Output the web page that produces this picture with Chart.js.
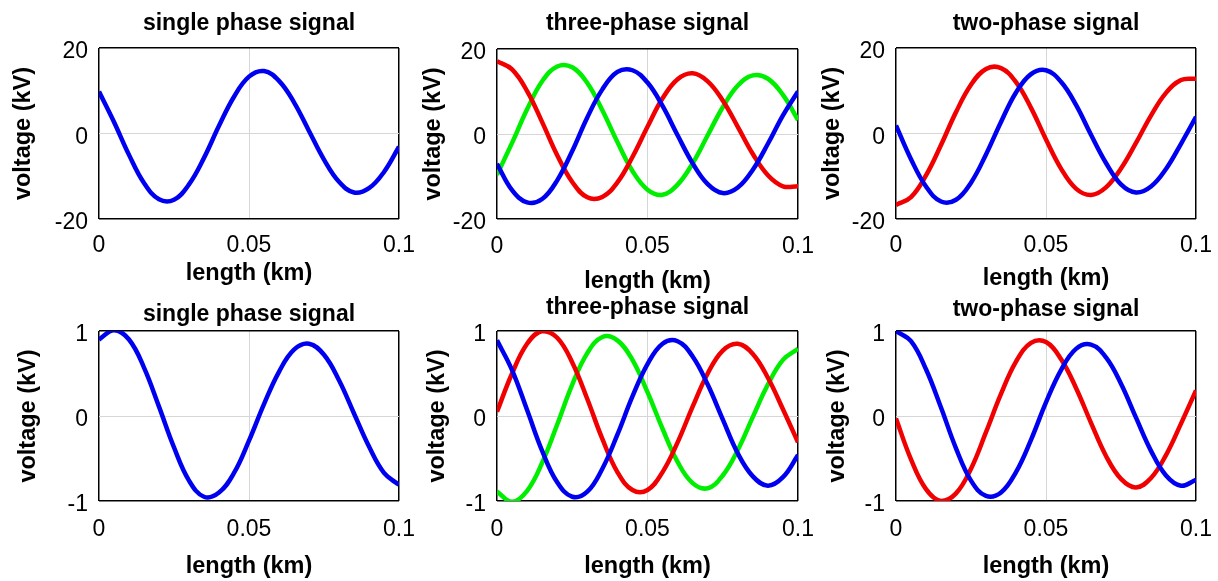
<!DOCTYPE html>
<html>
<head>
<meta charset="utf-8">
<script src="https://cdn.jsdelivr.net/npm/chart.js@4.4.0/dist/chart.umd.min.js"></script>
<style>
  html, body { margin: 0; background: #fff; overflow: hidden; }
  #wrap { position: relative; width: 1218px; height: 581px; overflow: hidden; }
  #wrap canvas { position: absolute; left: 0; top: 0; }
</style>
</head>
<body>
<div id="wrap">
  <canvas id="p1" width="1300" height="620"></canvas>
  <canvas id="p2" width="1300" height="620"></canvas>
  <canvas id="p3" width="1300" height="620"></canvas>
  <canvas id="p4" width="1300" height="620"></canvas>
  <canvas id="p5" width="1300" height="620"></canvas>
  <canvas id="p6" width="1300" height="620"></canvas>
</div>
<script>
// sample positions along the line (km)
var lengthKm = [0, 0.005, 0.01, 0.015, 0.02, 0.025, 0.03, 0.035, 0.04, 0.045, 0.05,
                0.055, 0.06, 0.065, 0.07, 0.075, 0.08, 0.085, 0.09, 0.095, 0.1];

var xTicks = [0, 0.05, 0.1];
var xTickLabels = ['0', '0.05', '0.1'];
var yTicksTop = [-20, 0, 20];
var yTickLabelsTop = ['-20', '0', '20'];
var yTicksBottom = [-1, 0, 1];
var yTickLabelsBottom = ['-1', '0', '1'];

// top row (kV)
var singleTop = [9.8, 2.7, -5.0, -11.6, -15.4, -15.5, -11.9, -5.7, 1.8, 8.6, 13.3, 14.6, 12.3, 7.3, 0.6, -6.1, -11.3, -13.8, -12.8, -9.0, -3.1];
var threeTopBlue = [-7.0, -13.2, -16.1, -15.3, -10.9, -4.0, 3.9, 10.5, 14.6, 15.0, 12.1, 6.6, -0.3, -6.9, -11.8, -13.9, -12.6, -8.4, -2.3, 4.4, 10.0];
var threeTopRed = [17.1, 15.2, 10.1, 2.8, -5.0, -11.3, -14.9, -14.8, -11.4, -5.4, 1.7, 8.4, 12.9, 14.3, 12.4, 7.9, 1.7, -4.7, -9.7, -12.3, -12.3];
var threeTopGreen = [-9.6, -2.1, 5.8, 12.4, 15.9, 15.7, 12.0, 5.6, -1.9, -8.7, -13.1, -14.3, -11.9, -6.9, -0.3, 6.3, 11.4, 13.8, 13.0, 9.2, 3.3];
var twoTopBlue = [1.9, -6.0, -12.4, -15.9, -15.5, -11.5, -4.9, 2.7, 9.6, 13.9, 14.8, 12.1, 6.7, -0.3, -6.9, -11.9, -13.8, -12.4, -8.3, -2.4, 3.9];
var twoTopRed = [-16.7, -14.9, -9.8, -2.7, 5.0, 11.4, 15.1, 15.3, 12.0, 6.0, -1.4, -8.2, -12.9, -14.4, -12.6, -8.2, -2.2, 4.2, 9.5, 12.5, 12.8];

// bottom row (kV)
var singleBottom = [0.90, 1.01, 0.90, 0.57, 0.11, -0.37, -0.76, -0.95, -0.90, -0.67, -0.29, 0.14, 0.52, 0.78, 0.85, 0.72, 0.42, 0.03, -0.36, -0.67, -0.81];
var threeBottomBlue = [0.89, 0.54, 0.07, -0.41, -0.78, -0.95, -0.89, -0.62, -0.22, 0.23, 0.61, 0.85, 0.88, 0.70, 0.37, -0.04, -0.44, -0.71, -0.82, -0.72, -0.46];
var threeBottomRed = [0.05, 0.50, 0.85, 1.00, 0.92, 0.63, 0.20, -0.27, -0.66, -0.87, -0.87, -0.66, -0.31, 0.11, 0.50, 0.77, 0.85, 0.73, 0.45, 0.08, -0.31];
var threeBottomGreen = [-0.89, -1.01, -0.88, -0.55, -0.10, 0.37, 0.74, 0.93, 0.89, 0.66, 0.28, -0.15, -0.54, -0.79, -0.85, -0.70, -0.40, -0.01, 0.37, 0.66, 0.79];
var twoBottomBlue = [1.00, 0.88, 0.55, 0.10, -0.38, -0.76, -0.94, -0.90, -0.66, -0.28, 0.16, 0.54, 0.79, 0.84, 0.69, 0.38, -0.02, -0.41, -0.70, -0.82, -0.75];
var twoBottomRed = [-0.03, -0.51, -0.86, -1.00, -0.91, -0.62, -0.19, 0.26, 0.64, 0.86, 0.87, 0.67, 0.33, -0.08, -0.47, -0.74, -0.84, -0.73, -0.46, -0.09, 0.30];

var BLUE = '#0000f0', RED = '#f00000', GREEN = '#00ee00';
var FONT = "'Liberation Sans', Arial, sans-serif";
Chart.defaults.font.family = FONT;
Chart.defaults.color = '#000';

var W = 1300, H = 620;
var TICK_SIZE = 23, TITLE_SIZE = 23, AXIS_SIZE = 23.5;
var Y_LABEL_DROP = 4; // y tick labels sit a little below their tick in the original

function edgeColor(c) {
  var n = c.scale.ticks.length - 1;
  return (c.index === 0 || c.index === n) ? '#000' : '#d6d6d6';
}
function edgeWidth(c) {
  var n = c.scale.ticks.length - 1;
  return (c.index === 0 || c.index === n) ? 1.5 : 1;
}

// box: plot rectangle and text anchors in page pixels
function panel(id, title, yTicks, yLabels, series, box) {
  var tHalf = TITLE_SIZE * 1.2 / 2;
  var aHalf = AXIS_SIZE * 1.2 / 2;
  var tkHalf = TICK_SIZE * 1.2 / 2;
  var padLeft = box.yTitleX - aHalf;
  var yW = box.L - padLeft;
  var xH = box.xTitleY + aHalf - box.B;

  new Chart(document.getElementById(id), {
    type: 'line',
    data: {
      datasets: series.map(function (s) {
        return {
          data: lengthKm.map(function (x, i) { return { x: x, y: s.values[i] }; }),
          borderColor: s.color,
          borderWidth: 4.5,
          pointRadius: 0,
          tension: 0.4,
          fill: false
        };
      })
    },
    options: {
      responsive: false,
      animation: false,
      events: [],
      layout: {
        padding: { left: padLeft, right: W - box.R, top: box.titleY - tHalf, bottom: H - box.B - xH }
      },
      plugins: {
        legend: { display: false },
        tooltip: { enabled: false },
        title: {
          display: true,
          text: title,
          fullSize: false,
          color: '#000',
          font: { size: TITLE_SIZE, weight: 'bold' },
          padding: { top: 0, bottom: box.T - box.titleY - tHalf }
        }
      },
      scales: {
        x: {
          type: 'linear',
          min: 0,
          max: 0.1,
          afterBuildTicks: function (s) { s.ticks = xTicks.map(function (v) { return { value: v }; }); },
          afterFit: function (s) { s.height = xH; },
          ticks: {
            autoSkip: false,
            maxRotation: 0,
            padding: box.xTickY - box.B - tkHalf,
            color: '#000',
            font: { size: TICK_SIZE },
            callback: function (v, i) { return xTickLabels[i]; }
          },
          grid: { drawTicks: false, color: edgeColor, lineWidth: edgeWidth },
          border: { display: false },
          title: {
            display: true,
            text: 'length (km)',
            color: '#000',
            font: { size: AXIS_SIZE, weight: 'bold' },
            padding: { top: 0, bottom: 0 }
          }
        },
        y: {
          type: 'linear',
          min: yTicks[0],
          max: yTicks[yTicks.length - 1],
          afterBuildTicks: function (s) { s.ticks = yTicks.map(function (v) { return { value: v }; }); },
          afterFit: function (s) { s.width = yW; },
          ticks: {
            padding: 11,
            color: '#000',
            // an empty first line pushes the label down by half the line height
            font: { size: TICK_SIZE, lineHeight: (Y_LABEL_DROP * 2) + 'px' },
            callback: function (v, i) { return ['', yLabels[i]]; }
          },
          grid: { drawTicks: false, color: edgeColor, lineWidth: edgeWidth },
          border: { display: false },
          title: {
            display: true,
            text: 'voltage (kV)',
            color: '#000',
            font: { size: AXIS_SIZE, weight: 'bold' },
            padding: { top: 0, bottom: 0 }
          }
        }
      }
    }
  });
}

panel('p1', 'single phase signal', yTicksTop, yTickLabelsTop,
  [{ values: singleTop, color: BLUE }],
  { L: 99, R: 399, T: 48, B: 219, titleY: 24, xTickY: 246, xTitleY: 274, yTitleX: 24 });

panel('p2', 'three-phase signal', yTicksTop, yTickLabelsTop,
  [{ values: threeTopBlue, color: BLUE }, { values: threeTopRed, color: RED }, { values: threeTopGreen, color: GREEN }],
  { L: 497, R: 798, T: 49, B: 219, titleY: 24, xTickY: 247, xTitleY: 282, yTitleX: 434 });

panel('p3', 'two-phase signal', yTicksTop, yTickLabelsTop,
  [{ values: twoTopBlue, color: BLUE }, { values: twoTopRed, color: RED }],
  { L: 896, R: 1196, T: 48, B: 219, titleY: 24, xTickY: 246, xTitleY: 279, yTitleX: 833 });

panel('p4', 'single phase signal', yTicksBottom, yTickLabelsBottom,
  [{ values: singleBottom, color: BLUE }],
  { L: 99, R: 399, T: 331, B: 501, titleY: 315, xTickY: 530, xTitleY: 567, yTitleX: 29 });

panel('p5', 'three-phase signal', yTicksBottom, yTickLabelsBottom,
  [{ values: threeBottomBlue, color: BLUE }, { values: threeBottomRed, color: RED }, { values: threeBottomGreen, color: GREEN }],
  { L: 497, R: 798, T: 331, B: 501, titleY: 308, xTickY: 530, xTitleY: 567, yTitleX: 438 });

panel('p6', 'two-phase signal', yTicksBottom, yTickLabelsBottom,
  [{ values: twoBottomBlue, color: BLUE }, { values: twoBottomRed, color: RED }],
  { L: 896, R: 1196, T: 331, B: 501, titleY: 310, xTickY: 530, xTitleY: 567, yTitleX: 838 });
</script>
</body>
</html>
